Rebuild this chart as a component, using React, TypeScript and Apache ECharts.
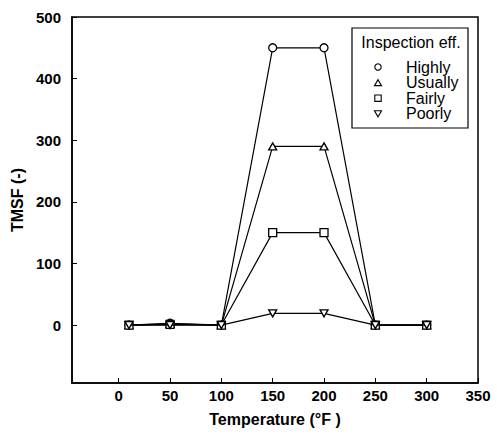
import React, { useEffect, useRef } from 'react';
import * as echarts from 'echarts';

const temperatures = [10, 50, 100, 150, 200, 250, 300];
const seriesNames = ['Highly', 'Usually', 'Fairly', 'Poorly'];
const highly = [0, 3, 0, 450, 450, 0, 0];
const usually = [0, 2, 0, 290, 290, 0, 0];
const fairly = [0, 1, 0, 150, 150, 0, 0];
const poorly = [0, 0, 0, 19, 19, 0, 0];
const xTicks = [0, 50, 100, 150, 200, 250, 300, 350];
const yTicks = [0, 100, 200, 300, 400, 500];
const legendTitle = 'Inspection eff.';
const xTitle = 'Temperature (°F )';
const yTitle = 'TMSF (-)';

const FONT = '"Liberation Sans", Arial, sans-serif';
const symbols = ['circle', 'triangle', 'rect', 'path://M0,0L10,0L5,8.66Z'];

export default function App() {
  const ref = useRef<HTMLDivElement>(null);
  useEffect(() => {
    if (!ref.current) return;
    const chart = echarts.init(ref.current, null, { renderer: 'svg' });
    const allValues = [highly, usually, fairly, poorly];

    const series = seriesNames.map((name, i) => ({
      name,
      type: 'line',
      data: temperatures.map((t, j) => [t, allValues[i][j]]),
      symbol: symbols[i],
      symbolSize: i === 1 || i === 3 ? [8, 7] : 8,
      showAllSymbol: true,
      lineStyle: { color: '#000', width: 1.2 },
      itemStyle: { color: '#fff', borderColor: '#000', borderWidth: 1.3 },
      z: 2 + i,
    }));

    // legend drawn as graphic
    const legendX = 378;
    const legendY0 = 67;
    const legendStep = 15.6;
    const legendChildren: any[] = [
      {
        type: 'rect',
        shape: { x: 352, y: 28, width: 116, height: 100 },
        style: { fill: '#fff', stroke: '#000', lineWidth: 1.2 },
      },
      {
        type: 'text',
        style: {
          text: legendTitle,
          x: 411,
          y: 42,
          align: 'center',
          verticalAlign: 'middle',
          font: `16px ${FONT}`,
          fill: '#000',
        },
      },
    ];
    seriesNames.forEach((name, i) => {
      const cy = legendY0 + i * legendStep;
      const mStyle = { fill: '#fff', stroke: '#000', lineWidth: 1.1 };
      let marker: any;
      if (i === 0) {
        marker = { type: 'circle', shape: { cx: legendX, cy, r: 3.2 }, style: mStyle };
      } else if (i === 1) {
        marker = {
          type: 'polygon',
          shape: { points: [[legendX - 3.5, cy + 3], [legendX + 3.5, cy + 3], [legendX, cy - 3]] },
          style: mStyle,
        };
      } else if (i === 2) {
        marker = { type: 'rect', shape: { x: legendX - 3.2, y: cy - 3.2, width: 6.4, height: 6.4 }, style: mStyle };
      } else {
        marker = {
          type: 'polygon',
          shape: { points: [[legendX - 3.5, cy - 3], [legendX + 3.5, cy - 3], [legendX, cy + 3]] },
          style: mStyle,
        };
      }
      legendChildren.push(marker);
      legendChildren.push({
        type: 'text',
        style: {
          text: name,
          x: 406,
          y: cy,
          align: 'left',
          verticalAlign: 'middle',
          font: `16px ${FONT}`,
          fill: '#000',
        },
      });
    });

    chart.setOption({
      animation: false,
      backgroundColor: '#fff',
      grid: {
        left: 72,
        top: 17,
        right: 19,
        bottom: 54,
        show: true,
        borderColor: '#000',
        borderWidth: 1.5,
        backgroundColor: 'transparent',
      },
      xAxis: {
        type: 'value',
        min: -45.5,
        max: 350,
        name: xTitle,
        nameLocation: 'middle',
        nameGap: 28,
        nameTextStyle: { fontSize: 16, fontWeight: 'bold', color: '#000', fontFamily: FONT },
        axisLine: { show: true, onZero: false, lineStyle: { color: '#000', width: 1.5 } },
        axisTick: { show: true, inside: true, length: 5, customValues: xTicks, lineStyle: { color: '#000', width: 1 } },
        axisLabel: { customValues: xTicks, fontSize: 15, fontWeight: 'bold', color: '#000', margin: 5, fontFamily: FONT },
        splitLine: { show: false },
      },
      yAxis: {
        type: 'value',
        min: -94,
        max: 500,
        name: yTitle,
        nameLocation: 'middle',
        nameGap: 47,
        nameRotate: 90,
        nameTextStyle: { fontSize: 16, fontWeight: 'bold', color: '#000', fontFamily: FONT },
        axisLine: { show: true, onZero: false, lineStyle: { color: '#000', width: 1.5 } },
        axisTick: { show: true, inside: true, length: 5, customValues: yTicks, lineStyle: { color: '#000', width: 1 } },
        axisLabel: { customValues: yTicks, fontSize: 15, fontWeight: 'bold', color: '#000', margin: 11, fontFamily: FONT },
        splitLine: { show: false },
      },
      series,
      graphic: [{ type: 'group', children: legendChildren, z: 100 }],
    });
    return () => chart.dispose();
  }, []);
  return (
    <div
      ref={ref}
      style={{ position: 'fixed', left: 0, top: 0, width: 497, height: 437, background: '#fff' }}
    />
  );
}
